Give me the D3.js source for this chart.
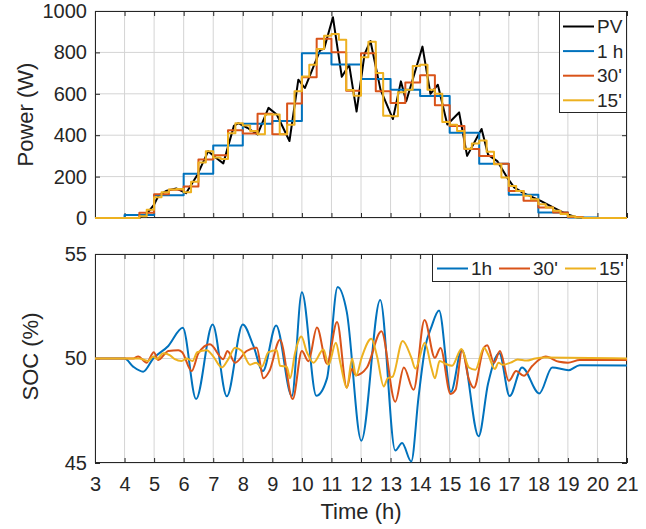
<!DOCTYPE html>
<html>
<head>
<meta charset="utf-8">
<script src="https://cdn.jsdelivr.net/npm/d3@7/dist/d3.min.js"></script>
<style>
  html, body { margin: 0; padding: 0; background: #fff; }
  text { font-family: "Liberation Sans", Arial, Helvetica, sans-serif; fill: #262626; }
</style>
</head>
<body>
<div id="chart"></div>
<script>
// ---- data ----
const xTicks = [3, 4, 5, 6, 7, 8, 9, 10, 11, 12, 13, 14, 15, 16, 17, 18, 19, 20, 21];
const powerTicks = [0, 200, 400, 600, 800, 1000];
const socTicks = [45, 50, 55];

// PV measurement [hour, W]
const pv = [
  [3, 0], [4.5, 0], [4.75, 20], [5.0, 65], [5.15, 108], [5.4, 130], [5.75, 143], [6.08, 120],
  [6.45, 205], [6.83, 323], [7.1, 290], [7.34, 264], [7.7, 445], [7.85, 458], [8.15, 436],
  [8.5, 404], [8.87, 532], [9.15, 500], [9.58, 372], [9.88, 668], [10.1, 628], [10.62, 812],
  [10.75, 817], [11.05, 970], [11.35, 682], [11.6, 740], [11.85, 514], [12.12, 792],
  [12.32, 855], [12.66, 620], [13.08, 478], [13.35, 660], [13.53, 564], [14.08, 828],
  [14.35, 600], [14.6, 644], [14.92, 452], [15.32, 510], [15.59, 300], [16.08, 430],
  [16.3, 305], [16.61, 275], [16.97, 190], [17.18, 148], [17.5, 120], [18.08, 83],
  [18.5, 51], [18.95, 19], [19.3, 3], [19.6, 0], [21, 0]
];

// stepped profiles, one value per interval starting at 3 h
const power1h = [0, 14, 110, 214, 350, 455, 468, 796, 742, 672, 620, 589, 412, 262, 112, 27, 2, 0];
const power30 = [0, 0, 0, 25, 115, 136, 152, 283, 303, 424, 408, 504, 404, 553, 680, 866, 801, 615,
  796, 612, 556, 655, 690, 545, 445, 333, 300, 262, 131, 83, 51, 27, 5, 0, 0, 0];
const power15 = [
  0, 0, 0, 0, 0, 0, 8, 40, 100, 125, 138, 140, 125, 175, 268, 322,
  292, 285, 410, 458, 447, 420, 404, 500, 500, 404, 450, 612, 684, 740, 816, 880,
  889, 861, 618, 591, 776, 851, 700, 494, 492, 608, 620, 734, 740, 620, 600, 464,
  450, 420, 335, 360, 375, 320, 260, 196, 155, 131, 107, 91, 67, 51, 35, 19,
  8, 3, 0, 0, 0, 0, 0, 0
];

// battery state of charge [hour, %]
const soc1h = [
  [3, 50], [4, 50], [4.3, 49.6], [4.63, 49.37], [4.97, 50], [5.48, 50.6], [5.97, 51.47],
  [6.42, 48.06], [6.98, 51.63], [7.46, 48.19], [8.0, 51.63], [8.36, 50.6], [8.68, 49.4],
  [9.13, 51.58], [9.66, 48.2], [10.0, 53.17], [10.49, 48.22], [10.85, 49.05], [11.21, 53.42],
  [11.52, 52.22], [12.01, 46.07], [12.65, 52.8], [13.16, 45.6], [13.39, 45.96], [13.7, 45.07],
  [13.95, 48.2], [14.18, 50.6], [14.38, 51.5], [14.64, 52.3], [15.04, 48.4], [15.41, 50.42],
  [15.98, 46.28], [16.3, 48.8], [16.68, 50.25], [17.03, 48.2], [17.45, 49.57], [18.03, 48.33],
  [18.47, 49.57], [19.03, 49.44], [19.4, 49.68], [21, 49.67]
];
const soc30 = [
  [3, 50], [4.3, 50], [4.46, 50.1], [4.75, 49.8], [4.99, 50.3], [5.14, 49.93], [5.48, 50.36],
  [5.82, 50.4], [5.95, 50.3], [6.27, 49.4], [6.5, 50.25], [6.89, 50.68], [7.34, 49.97],
  [7.48, 50.36], [7.74, 49.8], [8.13, 50.36], [8.47, 50.52], [8.7, 49.05], [8.9, 49.4],
  [9.26, 50.9], [9.69, 48.06], [10.0, 50.36], [10.22, 49.87], [10.51, 51.48], [10.85, 49.75],
  [11.19, 51.75], [11.52, 48.6], [11.69, 49.5], [11.83, 49.2], [12.2, 49.57], [12.69, 51.3],
  [13.16, 47.93], [13.45, 49.57], [13.78, 48.5], [14.15, 51.84], [14.5, 50.03], [14.69, 50.5],
  [15.03, 48.3], [15.2, 48.5], [15.42, 50.4], [15.65, 49.0], [15.82, 48.6], [16.16, 50.52],
  [16.27, 50.63], [16.5, 49.8], [16.7, 50.36], [17.0, 48.93], [17.25, 49.4], [17.51, 49.17],
  [17.8, 49.65], [18.25, 50.09], [18.7, 49.84], [19.0, 49.8], [19.4, 49.93], [21, 49.93]
];
const soc15 = [
  [3, 50], [4.5, 50], [4.63, 49.95], [4.8, 49.88], [4.97, 50.1], [5.1, 49.98], [5.31, 50.25],
  [5.54, 50.15], [5.7, 49.97], [5.93, 49.88], [6.1, 50.0], [6.3, 49.88], [6.46, 50.3],
  [6.78, 50.4], [7.0, 50.1], [7.29, 49.57], [7.51, 49.97], [7.74, 50.52], [7.97, 50.36],
  [8.25, 49.7], [8.45, 49.8], [8.64, 49.6], [8.87, 50.3], [9.15, 50.4], [9.26, 49.65],
  [9.49, 49.6], [9.6, 49.05], [9.77, 50.27], [9.98, 51.05], [10.17, 50.3], [10.39, 49.8],
  [10.73, 50.43], [10.9, 49.7], [11.15, 50.75], [11.3, 49.8], [11.52, 48.6], [11.7, 50.0],
  [11.83, 49.17], [12.03, 50.08], [12.35, 50.94], [12.54, 50.12], [12.77, 48.66], [12.9, 49.05],
  [13.07, 49.13], [13.41, 50.84], [13.7, 50.05], [13.84, 49.52], [14.16, 50.75], [14.38, 49.57],
  [14.5, 49.05], [14.66, 49.88], [14.85, 49.75], [15.08, 49.65], [15.4, 50.45], [15.65, 49.57],
  [15.87, 49.46], [16.16, 50.52], [16.3, 50.2], [16.53, 49.5], [16.65, 49.8], [16.8, 49.7],
  [17.06, 49.8], [17.3, 49.95], [17.6, 49.9], [17.9, 50.0], [18.2, 50.05], [21, 50.0]
];

// ---- styling ----
const colors = {
  pv: '#000000',
  h1: '#0072BD',
  m30: '#D95319',
  m15: '#EDB120',
  axis: '#262626',
  grid: '#d4d4d4'
};

const width = 646, height = 529;
const x0 = 95, x1 = 627;
const topPanel = { top: 11, bottom: 218 };
const botPanel = { top: 254, bottom: 463 };

const svg = d3.select('#chart').append('svg')
  .attr('width', width)
  .attr('height', height);

const x = d3.scaleLinear().domain([3, 21]).range([x0, x1]);
const yP = d3.scaleLinear().domain([0, 1000]).range([topPanel.bottom, topPanel.top]);
const yS = d3.scaleLinear().domain([45, 55]).range([botPanel.bottom, botPanel.top]);

// turn a per-interval array into step points (last value held to the end)
function toSteps(values, startHour, dt) {
  const pts = values.map((v, i) => [startHour + i * dt, v]);
  pts.push([startHour + values.length * dt, values[values.length - 1]]);
  return pts;
}

function drawPanel(panel, y, yTickValues, showXLabels, id) {
  const g = svg.append('g');

  // grid
  g.append('g').selectAll('line').data(xTicks).enter().append('line')
    .attr('x1', d => x(d)).attr('x2', d => x(d))
    .attr('y1', panel.top).attr('y2', panel.bottom)
    .attr('stroke', colors.grid).attr('stroke-width', 1);
  g.append('g').selectAll('line').data(yTickValues).enter().append('line')
    .attr('x1', x0).attr('x2', x1)
    .attr('y1', d => y(d)).attr('y2', d => y(d))
    .attr('stroke', colors.grid).attr('stroke-width', 1);

  // clip for the data lines (a little slack so lines on the limits stay visible)
  svg.append('clipPath').attr('id', id)
    .append('rect')
    .attr('x', x0).attr('y', panel.top - 2)
    .attr('width', x1 - x0).attr('height', panel.bottom - panel.top + 4);

  // axes with inward ticks (mirrored on top/right like MATLAB's box)
  const bottomAxis = d3.axisBottom(x).tickValues(xTicks).tickSizeInner(-5).tickSizeOuter(0)
    .tickPadding(14).tickFormat(showXLabels ? d3.format('d') : () => '');
  const topAxis = d3.axisTop(x).tickValues(xTicks).tickSizeInner(-5).tickSizeOuter(0)
    .tickFormat(() => '');
  const leftAxis = d3.axisLeft(y).tickValues(yTickValues).tickSizeInner(-5).tickSizeOuter(0)
    .tickPadding(8).tickFormat(d3.format('d'));
  const rightAxis = d3.axisRight(y).tickValues(yTickValues).tickSizeInner(-5).tickSizeOuter(0)
    .tickFormat(() => '');

  const axes = [
    [bottomAxis, `translate(0,${panel.bottom})`],
    [topAxis, `translate(0,${panel.top})`],
    [leftAxis, `translate(${x0},0)`],
    [rightAxis, `translate(${x1},0)`]
  ];
  axes.forEach(([ax, tr]) => {
    const a = g.append('g').attr('transform', tr).call(ax);
    a.select('.domain').remove();
    a.selectAll('line').attr('stroke', colors.axis);
    a.selectAll('text').style('font-size', '20px').attr('fill', colors.axis)
      .style('font-family', '"Liberation Sans", Arial, Helvetica, sans-serif');
  });

  return g;
}

function drawBox(panel) {
  svg.append('rect')
    .attr('x', x0 + 0.5).attr('y', panel.top + 0.5)
    .attr('width', x1 - x0 - 1).attr('height', panel.bottom - panel.top - 1)
    .attr('fill', 'none').attr('stroke', colors.axis).attr('stroke-width', 1);
}

function addLine(pts, y, color, curve, clipId) {
  const line = d3.line().x(d => x(d[0])).y(d => y(d[1])).curve(curve);
  svg.append('path')
    .datum(pts)
    .attr('clip-path', `url(#${clipId})`)
    .attr('d', line)
    .attr('fill', 'none')
    .attr('stroke', color)
    .attr('stroke-width', 2)
    .attr('stroke-linejoin', 'round');
}

// ---- top panel: power ----
drawPanel(topPanel, yP, powerTicks, false, 'clipTop');
drawBox(topPanel);
addLine(pv, yP, colors.pv, d3.curveLinear, 'clipTop');
addLine(toSteps(power1h, 3, 1), yP, colors.h1, d3.curveStepAfter, 'clipTop');
addLine(toSteps(power30, 3, 0.5), yP, colors.m30, d3.curveStepAfter, 'clipTop');
addLine(toSteps(power15, 3, 0.25), yP, colors.m15, d3.curveStepAfter, 'clipTop');

// ---- bottom panel: SOC ----
drawPanel(botPanel, yS, socTicks, true, 'clipBot');
drawBox(botPanel);
addLine(soc1h, yS, colors.h1, d3.curveMonotoneX, 'clipBot');
addLine(soc30, yS, colors.m30, d3.curveMonotoneX, 'clipBot');
addLine(soc15, yS, colors.m15, d3.curveMonotoneX, 'clipBot');

// ---- axis labels ----
svg.append('text')
  .attr('transform', `translate(33,${(topPanel.top + topPanel.bottom) / 2}) rotate(-90)`)
  .attr('text-anchor', 'middle').style('font-size', '22px')
  .text('Power (W)');
svg.append('text')
  .attr('transform', `translate(38,${(botPanel.top + botPanel.bottom) / 2 - 2}) rotate(-90)`)
  .attr('text-anchor', 'middle').style('font-size', '22px')
  .text('SOC (%)');
svg.append('text')
  .attr('x', (x0 + x1) / 2).attr('y', 519)
  .attr('text-anchor', 'middle').style('font-size', '22px')
  .text('Time (h)');

// ---- legends ----
const topLegend = [
  { name: 'PV', color: colors.pv },
  { name: '1 h', color: colors.h1 },
  { name: "30'", color: colors.m30 },
  { name: "15'", color: colors.m15 }
];
const lgTop = svg.append('g');
lgTop.append('rect')
  .attr('x', 559.5).attr('y', topPanel.top + 0.5)
  .attr('width', x1 - 559.5 - 0.5).attr('height', 101)
  .attr('fill', '#fff').attr('stroke', colors.axis).attr('stroke-width', 1);
topLegend.forEach((d, i) => {
  const cy = 26.5 + i * 24.6;
  lgTop.append('line')
    .attr('x1', 563).attr('x2', 594).attr('y1', cy).attr('y2', cy)
    .attr('stroke', d.color).attr('stroke-width', 2);
  lgTop.append('text')
    .attr('x', 597).attr('y', cy).attr('dy', '0.35em')
    .style('font-size', '19px').text(d.name);
});

const botLegend = [
  { name: '1h', color: colors.h1, x: 437 },
  { name: "30'", color: colors.m30, x: 499 },
  { name: "15'", color: colors.m15, x: 565 }
];
const lgBot = svg.append('g');
lgBot.append('rect')
  .attr('x', 432.5).attr('y', botPanel.top + 0.5)
  .attr('width', x1 - 432.5 - 0.5).attr('height', 27)
  .attr('fill', '#fff').attr('stroke', colors.axis).attr('stroke-width', 1);
botLegend.forEach(d => {
  const cy = 268.5;
  lgBot.append('line')
    .attr('x1', d.x).attr('x2', d.x + 31).attr('y1', cy).attr('y2', cy)
    .attr('stroke', d.color).attr('stroke-width', 2);
  lgBot.append('text')
    .attr('x', d.x + 34).attr('y', cy).attr('dy', '0.35em')
    .style('font-size', '19px').text(d.name);
});
</script>
</body>
</html>
